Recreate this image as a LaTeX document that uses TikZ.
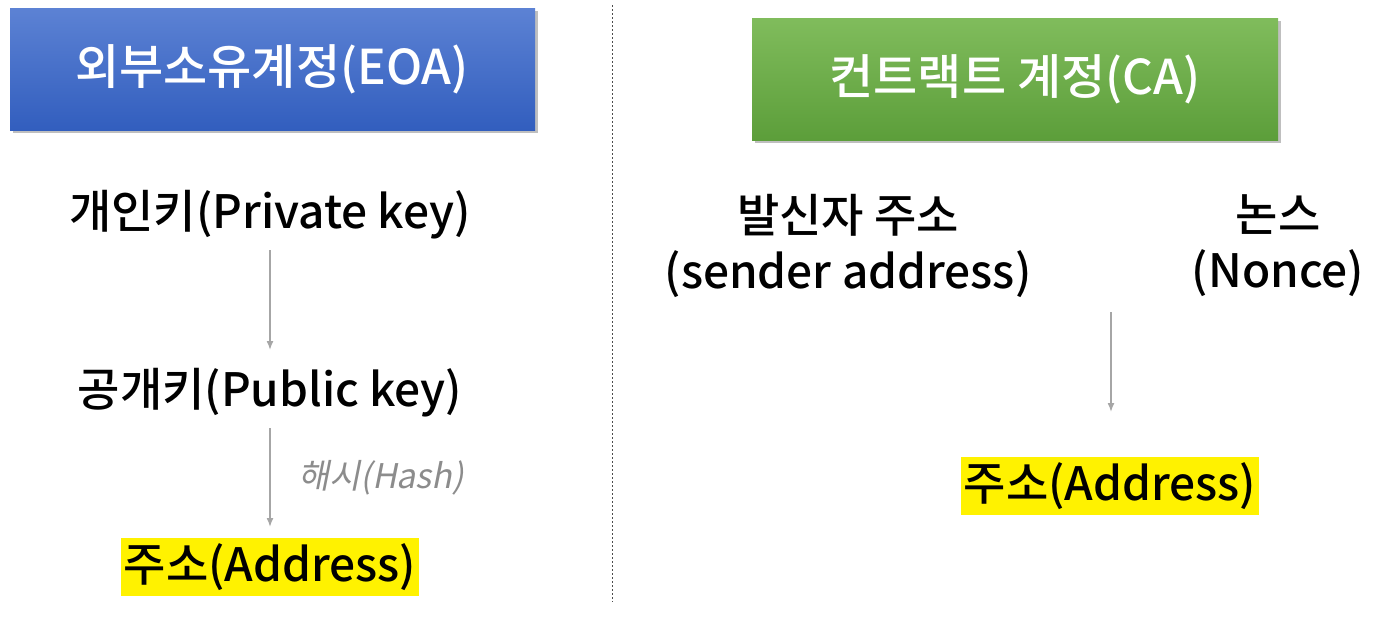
\documentclass[tikz,border=0pt]{standalone}
\usepackage{fontspec}
\setmainfont{Noto Sans CJK KR Medium}
\newfontfamily\slfont[FakeSlant=0.2]{Noto Sans CJK KR}
\begin{document}
\begin{tikzpicture}[x=1pt,y=-1pt,
  lbl/.style={font=\fontsize{46}{50}\selectfont, inner sep=0pt},
  hl/.style={lbl, fill=yellow, inner xsep=3pt, inner ysep=5pt},
  arr/.style={draw=black!35, line width=1.5pt, -{Latex[length=9pt,width=7pt]}},
  title/.style={font=\fontsize{48}{52}\selectfont, text=white}]
\usetikzlibrary{arrows.meta}
\useasboundingbox (0,0) rectangle (1400,625);
\fill[black!25] (13,11) rectangle (538,133);
\shade[top color={rgb,255:red,92;green,130;blue,212}, bottom color={rgb,255:red,50;green,94;blue,190}] (10,8) rectangle (535,130);
\node[title] (eoa) at (272,69) {외부소유계정(EOA)};
\fill[black!25] (755,21) rectangle (1281,143);
\shade[top color={rgb,255:red,128;green,188;blue,92}, bottom color={rgb,255:red,92;green,158;blue,58}] (752,18) rectangle (1278,140);
\node[title] (ca) at (1015,79) {컨트랙트 계정(CA)};
\coordinate (d1) at (612,5); \coordinate (d2) at (612,602);
\draw[black!70, dash pattern=on 2pt off 2pt] (d1) -- (d2);
\node[lbl] (priv) at (270,215) {개인키(Private key)};
\node[lbl] (pub) at (270,393) {공개키(Public key)};
\node[hl] (addr1) at (270,567) {주소(Address)};
\draw[arr] (270,250) -- (270,350);
\draw[arr] (270,428) -- (270,527);
\node[font=\fontsize{34}{38}\selectfont\slfont, text=black!45] (hash) at (381,478) {해시(Hash)};
\node[lbl, align=center] (snd) at (848,246) {발신자 주소\\[6pt](sender address)};
\node[lbl, align=center] (nonce) at (1278,246) {논스\\[6pt](Nonce)};
\node[hl] (addr2) at (1110,486) {주소(Address)};
\draw[arr] (1111,312) -- (1111,412);
\end{tikzpicture}
\end{document}
